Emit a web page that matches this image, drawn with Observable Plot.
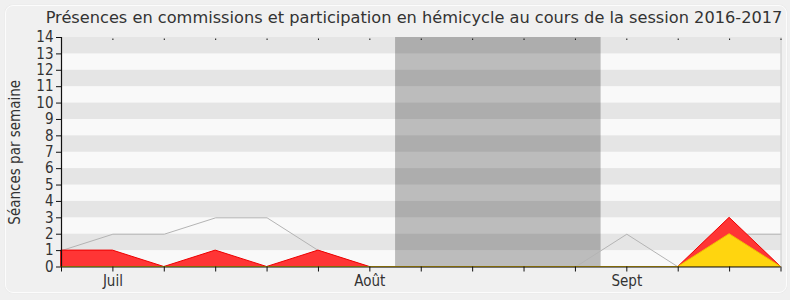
<!DOCTYPE html>
<html>
<head>
<meta charset="utf-8">
<script src="https://cdn.jsdelivr.net/npm/d3@7"></script>
<script src="https://cdn.jsdelivr.net/npm/@observablehq/plot@0.6"></script>
<style>
  html, body { margin: 0; padding: 0; background: #f0f0f0; }
  #wrap { position: relative; width: 790px; height: 300px; background: #f0f0f0; overflow: hidden; font-family: "DejaVu Sans", sans-serif; }
  #frame { position: absolute; left: 5px; top: 5px; width: 780px; height: 286px; border: 1.5px solid #fcfcfc; border-radius: 8px; box-shadow: 0 0 1px #d8d8d8; }
  #title { position: absolute; left: 0; top: 0; width: 790px; height: 30px; text-align: center; font-size: 16.2px; line-height: 36px; color: #333; padding-left: 38px; box-sizing: border-box; white-space: nowrap; }
  #chart { position: absolute; left: 0; top: 30px; }
  #chart svg { overflow: visible; }
  #chart svg g[aria-label="y-axis tick label"] text,
  #chart svg g[aria-label="x-axis tick label"] text { font-family: "DejaVu Sans Condensed", "DejaVu Sans", sans-serif; font-size: 15px; fill: #333; }
  #chart svg g[aria-label="y-axis label"] text { font-family: "DejaVu Sans Condensed", "DejaVu Sans", sans-serif; font-size: 15px; fill: #333; }
</style>
</head>
<body>
<div id="wrap">
  <div id="frame"></div>
  <div id="title">Présences en commissions et participation en hémicycle au cours de la session 2016-2017</div>
  <div id="chart"></div>
</div>
<script>
// Weekly data, index 0..14
const weeks = [0,1,2,3,4,5,6,7,8,9,10,11,12,13,14];
const xLabels = ["", "Juil", "", "", "", "", "Août", "", "", "", "", "Sept", "", "", ""];
const presences = [1,2,2,3,3,1,0,0,0,0,0,2,0,2,2];      // gray line
const commissions = [1,1,0,1,0,1,0,0,0,0,0,0,0,3,0];    // red area
const hemicycle = [0,0,0,0,0,0,0,0,0,0,0,0,0,2,0];      // yellow area
const vacationStart = [6.5];
const vacationEnd = [10.5];
const yTicks = [0,1,2,3,4,5,6,7,8,9,10,11,12,13,14];
const bandStarts = [1,3,5,7,9,11,13];

const rows = weeks.map((w, i) => ({w, p: presences[i], c: commissions[i], h: hemicycle[i]}));
const vac = vacationStart.map((s, i) => ({s, e: vacationEnd[i]}));

const chart = Plot.plot({
  width: 790,
  height: 270,
  marginLeft: 61,
  marginRight: 9.5,
  marginTop: 7,
  marginBottom: 33.5,
  style: {fontFamily: "DejaVu Sans, sans-serif", fontSize: "14px", color: "#333", background: "transparent", overflow: "visible"},
  x: {type: "linear", domain: [0, 14]},
  y: {domain: [0, 14]},
  marks: [
    Plot.frame({fill: "#f9f9f9", stroke: null}),
    Plot.rect(bandStarts, {y1: d => d, y2: d => d + 1, fill: "#e5e5e5"}),
    Plot.rect(vac, {x1: "s", x2: "e", fill: "#000", fillOpacity: 0.245}),
    Plot.line(rows, {x: "w", y: "p", stroke: "#b4b4b4", strokeWidth: 1}),
    Plot.areaY(rows, {x: "w", y: "c", fill: "#ff3535", stroke: "#ee0000", strokeWidth: 1}),
    Plot.areaY(rows, {x: "w", y: "h", fill: "#ffd50f", stroke: "#f0c000", strokeWidth: 1}),
    Plot.ruleX([14], {stroke: "#c8c8c8"}),
    Plot.ruleY([0], {stroke: "#111", strokeWidth: 1.2}),
    Plot.ruleX([0], {stroke: "#111", strokeWidth: 1.2}),
    Plot.axisY({ticks: yTicks, tickSize: 5, tickPadding: 3, tickFormat: d => d, label: "Séances par semaine", labelAnchor: "center", labelArrow: "none", labelOffset: 52, stroke: "#111"}),
    Plot.axisX({ticks: weeks, tickSize: 5, tickFormat: d => xLabels[d], label: null, tickPadding: 3, stroke: "#111"}),
    Plot.axisX({anchor: "top", ticks: weeks, tickSize: 1.5, tickFormat: () => "", label: null, stroke: "#111", dy: 2})
  ]
});
document.getElementById("chart").appendChild(chart);
</script>
</body>
</html>
